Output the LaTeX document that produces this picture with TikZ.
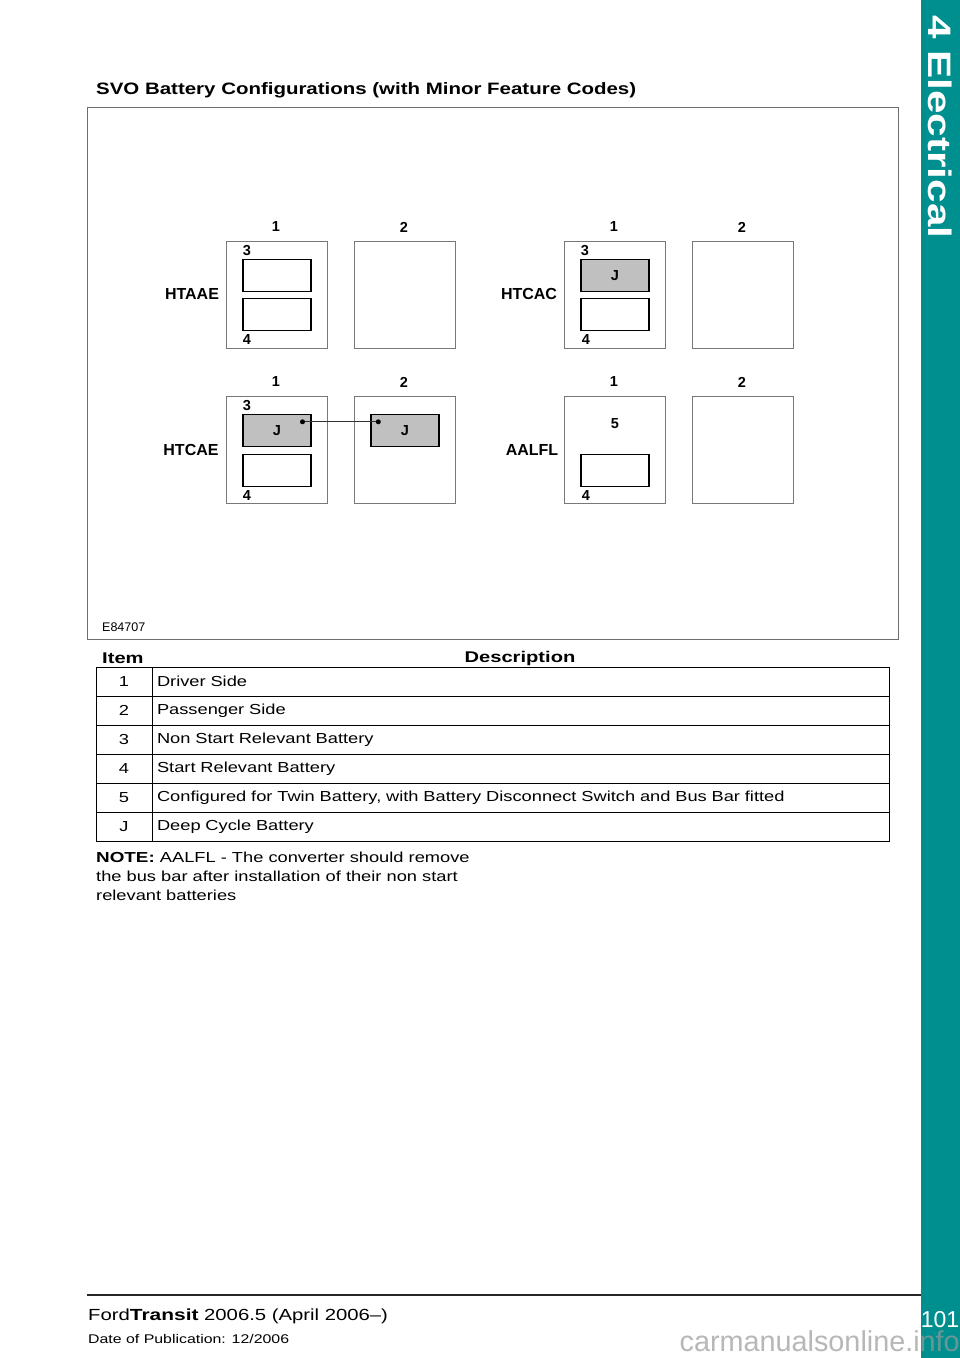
\documentclass[tikz,border=0pt]{standalone}
\usepackage{fontspec}
\setmainfont{Liberation Sans}
\newfontfamily\ext[FakeStretch=1.26]{Liberation Sans}
\newfontfamily\extb[FakeStretch=1.3]{Liberation Sans}
\newfontfamily\extt[FakeStretch=1.24]{Liberation Sans}
\definecolor{tealbar}{RGB}{0,143,143}
\definecolor{jgray}{RGB}{192,192,192}
\definecolor{framegray}{RGB}{110,110,110}
\definecolor{boxgray}{RGB}{120,120,120}
\tikzset{
  outerbox/.style={draw=boxgray, line width=0.9pt, inner sep=0, outer sep=0, anchor=north west, minimum width=101pt, minimum height=107pt},
  innerbox/.style={draw=black, line width=1.6pt, inner sep=0, outer sep=0, anchor=north west, minimum width=68pt, minimum height=32pt, font=\bfseries\fontsize{14.5}{16}\selectfont},
  jbox/.style={innerbox, fill=jgray},
  collabel/.style={font=\bfseries\fontsize{14.5}{16}\selectfont, inner sep=0},
  codelabel/.style={font=\bfseries\fontsize{16}{18}\selectfont, inner sep=0},
  dotnode/.style={circle, fill=black, inner sep=0, minimum size=5pt},
  itemcell/.style={draw=black, line width=0.8pt, anchor=north west, inner sep=0, outer sep=0, minimum width=56pt, minimum height=29pt, font=\ext\fontsize{14.5}{16}\selectfont},
  desccell/.style={draw=black, line width=0.8pt, anchor=north west, inner xsep=5pt, inner ysep=0, outer sep=0, text width=727pt, align=left, minimum height=29pt, font=\ext\fontsize{14.5}{16}\selectfont},
}
\begin{document}
\begin{tikzpicture}[x=1pt,y=-1pt]
\useasboundingbox (0,0) rectangle (960,1358);
\fill[white] (0,0) rectangle (960,1358);
\fill[tealbar] (921,0) rectangle (960,1358);
\node[rotate=-90, anchor=west, text=white, font=\extb\bfseries\fontsize{32.5}{35}\selectfont, inner sep=0] (sect) at (940,15) {4 Electrical};

% title
\node[anchor=west, inner sep=0, font=\extt\bfseries\fontsize{16.5}{18}\selectfont] (title) at (96,90) {SVO Battery Configurations (with Minor Feature Codes)};

% frame
\node[draw=framegray, line width=1pt, anchor=north west, inner sep=0, minimum width=811pt, minimum height=532pt] (frame) at (87,107) {};
\node[anchor=west, inner sep=0, font=\fontsize{12.5}{14}\selectfont] (fig) at (102,627) {E84707};

% column labels
\node[collabel] (a1) at (276,227) {1};
\node[collabel] (a2) at (404,227) {2};
\node[collabel] (b1) at (614,227) {1};
\node[collabel] (b2) at (742,227) {2};
\node[collabel] (c1) at (276,382) {1};
\node[collabel] (c2) at (404,382) {2};
\node[collabel] (d1) at (614,382) {1};
\node[collabel] (d2) at (742,382) {2};

% code labels
\node[codelabel] (htaae) at (192,294) {HTAAE};
\node[codelabel] (htcac) at (529,294) {HTCAC};
\node[codelabel] (htcae) at (191,450) {HTCAE};
\node[codelabel] (aalfl) at (532,450) {AALFL};

% HTAAE
\node[outerbox] (A1) at (226,241) {};
\node[outerbox] (A2) at (354.5,241) {};
\node[innerbox] (A1t) at (243,259.5) {};
\node[innerbox] (A1b) at (243,298.5) {};
\node[collabel] (A3) at (247,251) {3};
\node[collabel] (A4) at (247,340) {4};

% HTCAC
\node[outerbox] (B1) at (564.5,241) {};
\node[outerbox] (B2) at (692.5,241) {};
\node[jbox] (B1t) at (581,259.5) {J};
\node[innerbox] (B1b) at (581,298.5) {};
\node[collabel] (B3) at (585,251) {3};
\node[collabel] (B4) at (586,340) {4};

% HTCAE
\node[outerbox] (C1) at (226,396.5) {};
\node[outerbox] (C2) at (354.5,396.5) {};
\node[jbox] (C1t) at (243,414.5) {J};
\node[innerbox] (C1b) at (243,454.5) {};
\node[jbox] (C2t) at (371,414.5) {J};
\node[collabel] (C3) at (247,406) {3};
\node[collabel] (C4) at (247,496) {4};
\node[dotnode] (p1) at (302.5,421.8) {};
\node[dotnode] (p2) at (378.3,421.8) {};
\draw[line width=0.7pt, black!80] (p1) -- (p2);

% AALFL
\node[outerbox] (D1) at (564.5,396.5) {};
\node[outerbox] (D2) at (692.5,396.5) {};
\node[collabel] (D5) at (615,423.5) {5};
\node[innerbox] (D1b) at (581,454.5) {};
\node[collabel] (D4) at (586,496) {4};

% table
\node[anchor=west, inner sep=0, font=\extb\bfseries\fontsize{15.5}{17}\selectfont] (hitem) at (102,658) {Item};
\node[inner sep=0, font=\extb\bfseries\fontsize{15.5}{17}\selectfont] (hdesc) at (520,658) {Description};

\node[itemcell] (i1) at (96,667) {1};
\node[desccell] (t1) at (152,667) {Driver Side};
\node[itemcell] (i2) at (96,696) {2};
\node[desccell] (t2) at (152,696) {Passenger Side};
\node[itemcell] (i3) at (96,725) {3};
\node[desccell] (t3) at (152,725) {Non Start Relevant Battery};
\node[itemcell] (i4) at (96,754) {4};
\node[desccell] (t4) at (152,754) {Start Relevant Battery};
\node[itemcell] (i5) at (96,783) {5};
\node[desccell] (t5) at (152,783) {Configured for Twin Battery, with Battery Disconnect Switch and Bus Bar fitted};
\node[itemcell] (i6) at (96,812) {J};
\node[desccell] (t6) at (152,812) {Deep Cycle Battery};

% note
\node[anchor=north west, inner sep=0, align=left, font=\ext\fontsize{14.5}{19}\selectfont] (note) at (96,852) {{\extb\bfseries NOTE:} AALFL - The converter should remove\\the bus bar after installation of their non start\\relevant batteries};

% footer
\coordinate (fl) at (87,1295);
\coordinate (fr) at (921,1295);
\draw[line width=1.6pt, black!85] (fl) -- (fr);
\node[anchor=west, inner sep=0, font=\ext\fontsize{16.1}{20}\selectfont] (foot) at (88,1316) {Ford{\extb\bfseries Transit} 2006.5 (April 2006–)};
\node[anchor=west, inner sep=0, font=\ext\fontsize{12.6}{15}\selectfont] (pub) at (88,1339) {Date of Publication: 12/2006};
\node[text=white, inner sep=0, font=\fontsize{23}{25}\selectfont] (page) at (940,1320) {101};
\node[anchor=east, inner sep=0, text=gray!80, opacity=0.7, font=\fontsize{28.8}{30}\selectfont] (wm) at (960,1341) {carmanualsonline.info};
\end{tikzpicture}
\end{document}
